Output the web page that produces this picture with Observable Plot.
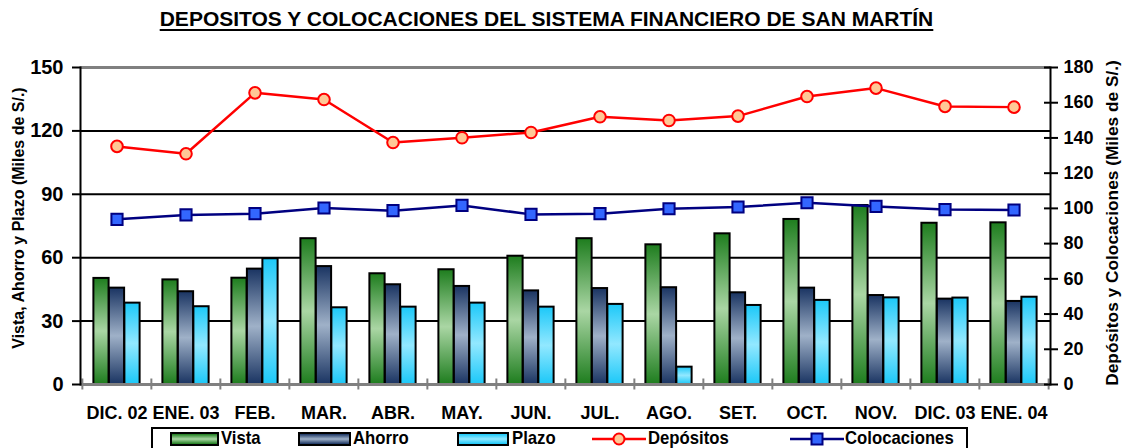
<!DOCTYPE html>
<html><head><meta charset="utf-8">
<script src="https://cdn.jsdelivr.net/npm/d3@7"></script>
<script src="https://cdn.jsdelivr.net/npm/@observablehq/plot@0.6"></script>
<style>
body{margin:0;background:#fff;font-family:"Liberation Sans",Arial,sans-serif;}
#wrap{position:relative;width:1125px;height:448px;overflow:hidden;background:#fff;}
#title{position:absolute;left:0;top:7px;width:1093px;text-align:center;font-weight:bold;font-size:21px;line-height:24px;text-decoration:underline;text-underline-offset:3px;}
#chart{position:absolute;left:0;top:40px;}
#legend{position:absolute;left:151px;top:427px;width:817px;height:32px;border:2px solid #000;box-sizing:border-box;font-family:"Liberation Sans",Arial,sans-serif;font-weight:bold;font-size:19px;}
#legend .it{position:absolute;top:-2px;line-height:22px;white-space:nowrap;transform:scaleX(0.88);transform-origin:0 50%;}
#legend .sw{position:absolute;top:3px;height:14px;border:2px solid #000;box-sizing:border-box;}
#legend svg{position:absolute;top:-1px;}
</style></head>
<body><div id="wrap">
<div id="title">DEPOSITOS Y COLOCACIONES DEL SISTEMA FINANCIERO DE SAN MARTÍN</div>
<div id="chart"></div>
<div id="legend"></div>
</div>
<script>
const months = ["DIC. 02","ENE. 03","FEB.","MAR.","ABR.","MAY.","JUN.","JUL.","AGO.","SET.","OCT.","NOV.","DIC. 03","ENE. 04"];
const vista  = [50.2,49.5,50.3,69.0,52.4,54.3,60.7,69.0,66.1,71.3,78.1,84.7,76.3,76.5];
const ahorro = [45.6,43.9,54.6,55.8,47.2,46.4,44.3,45.4,45.8,43.4,45.6,42.1,40.4,39.3];
const plazo  = [38.5,36.8,59.5,36.3,36.6,38.5,36.6,37.9,8.2,37.4,39.8,41.0,40.9,41.3];
const depositos    = [135.2,131.0,165.6,161.8,137.4,140.1,143.1,152.0,149.9,152.4,163.5,168.3,157.9,157.5];
const colocaciones = [93.8,96.3,97.0,100.2,98.7,101.7,96.6,97.0,99.8,100.8,103.2,101.1,99.3,99.1];
const leftTicks  = [0,30,60,90,120,150];
const rightTicks = [0,20,40,60,80,100,120,140,160,180];
const gridTicks  = [30,60,90,120];
const leftLabel  = "Vista, Ahorro y Plazo (Miles de S/.)";
const rightLabel = "Depósitos y Colocaciones (Miles de S/.)";

const W = 1125, H = 386, mL = 80, mR = 75, mT = 27, mB = 42;
const k = 150 / 180; // right-axis values mapped onto the left scale
const bw = (W - mL - mR) / months.length;
const barW = 15.5;
const g0 = (bw - 3 * barW) / 2;
const inset = i => ({insetLeft: g0 + i * barW, insetRight: bw - g0 - (i + 1) * barW});

const rows = a => months.map((m, i) => ({m, v: a[i]}));
const bold = {fontWeight: "bold", fontFamily: "Liberation Sans, Arial, sans-serif"};

const chart = Plot.plot({
  width: W, height: H, marginLeft: mL, marginRight: mR, marginTop: mT, marginBottom: mB,
  style: {background: "#fff", color: "#000", overflow: "visible"},
  x: {type: "band", domain: months, padding: 0, label: null},
  y: {domain: [0, 150], label: null},
  marks: [
    Plot.ruleY(gridTicks, {stroke: "#000", strokeWidth: 2}),
    Plot.ruleY([150], {stroke: "#808080", strokeWidth: 3}),
    Plot.barY(rows(vista),  {x: "m", y: "v", fill: "url(#gVista)",  stroke: "#000", strokeWidth: 2, ...inset(0)}),
    Plot.barY(rows(ahorro), {x: "m", y: "v", fill: "url(#gAhorro)", stroke: "#000", strokeWidth: 2, ...inset(1)}),
    Plot.barY(rows(plazo),  {x: "m", y: "v", fill: "url(#gPlazo)",  stroke: "#000", strokeWidth: 2, ...inset(2)}),
    Plot.ruleY([0], {stroke: "#808080", strokeWidth: 3}),
    Plot.ruleX(months, {x: d => d, dx: -bw / 2, y1: -2.6, y2: 2.6, stroke: "#808080", strokeWidth: 2}),
    Plot.ruleX(months.slice(-1), {x: d => d, dx: bw / 2, y1: -2.6, y2: 2.6, stroke: "#808080", strokeWidth: 2}),
    Plot.frame({anchor: "left", stroke: "#000", strokeWidth: 2}),
    Plot.frame({anchor: "right", stroke: "#000", strokeWidth: 2}),
    Plot.axisY({anchor: "left", label: null, ticks: leftTicks, tickSize: 8, tickPadding: 9, fontSize: 20, ...bold, tickFormat: d => d, strokeWidth: 2}),
    Plot.axisY({anchor: "right", label: null, ticks: rightTicks.map(v => v * k), tickSize: 14, dx: -7, tickFormat: () => "", strokeWidth: 2}),
    Plot.axisY({anchor: "right", label: null, ticks: rightTicks.map(v => v * k), tickSize: 0, tickPadding: 13, fontSize: 18, ...bold, tickFormat: d => Math.round(d / k)}),
    Plot.axisX({label: null, tickSize: 0, tickPadding: 22, fontSize: 18, ...bold}),
    Plot.text([leftLabel], {text: d => d, frameAnchor: "left", textAnchor: "middle", rotate: -90, dx: -62, dy: -8, fontSize: 16, ...bold}),
    Plot.text([rightLabel], {text: d => d, frameAnchor: "right", textAnchor: "middle", rotate: -90, dx: 62, dy: -3, fontSize: 17.3, ...bold}),
    Plot.line(rows(depositos), {x: "m", y: d => d.v * k, stroke: "#ff0000", strokeWidth: 2.5}),
    Plot.dot(rows(depositos), {x: "m", y: d => d.v * k, r: 5.8, fill: "#ffc896", stroke: "#ff0000", strokeWidth: 2}),
    Plot.line(rows(colocaciones), {x: "m", y: d => d.v * k, stroke: "#000080", strokeWidth: 2.5}),
    Plot.dot(rows(colocaciones), {x: "m", y: d => d.v * k, symbol: "square", r: 6.3, fill: "#3366ff", stroke: "#000080", strokeWidth: 2})
  ]
});

d3.select(chart).insert("defs", ":first-child").html(`
<linearGradient id="gVista" x1="0" y1="0" x2="0" y2="1"><stop offset="0" stop-color="#1e7d1e"/><stop offset="0.5" stop-color="#aad6a4"/><stop offset="1" stop-color="#1e7d1e"/></linearGradient>
<linearGradient id="gAhorro" x1="0" y1="0" x2="0" y2="1"><stop offset="0" stop-color="#1a3462"/><stop offset="0.5" stop-color="#9fb1c8"/><stop offset="1" stop-color="#1a3462"/></linearGradient>
<linearGradient id="gPlazo" x1="0" y1="0" x2="0" y2="1"><stop offset="0" stop-color="#1cc8f8"/><stop offset="0.5" stop-color="#92e8ff"/><stop offset="1" stop-color="#1cc8f8"/></linearGradient>`);
document.getElementById("chart").appendChild(chart);

// legend
const legend = d3.select("#legend");
const L0 = 153;
const items = [
  {name: "Vista", type: "bar", grad: "linear-gradient(#1e7d1e,#aad6a4,#1e7d1e)", sx: 170, sw: 49, tx: 221},
  {name: "Ahorro", type: "bar", grad: "linear-gradient(#1a3462,#9fb1c8,#1a3462)", sx: 298, sw: 53, tx: 353},
  {name: "Plazo", type: "bar", grad: "linear-gradient(#1cc8f8,#92e8ff,#1cc8f8)", sx: 457, sw: 52, tx: 512},
  {name: "Depósitos", type: "circle", sx: 592, sw: 54, tx: 648},
  {name: "Colocaciones", type: "square", sx: 790, sw: 54, tx: 845}
];
for (const it of items) {
  if (it.type === "bar") {
    legend.append("div").attr("class", "sw").style("left", (it.sx - L0) + "px").style("width", it.sw + "px").style("background", it.grad);
  } else {
    const s = legend.append("svg").attr("width", it.sw).attr("height", 22).style("left", (it.sx - L0) + "px");
    const col = it.type === "circle" ? "#ff0000" : "#000080";
    s.append("line").attr("x1", 0).attr("x2", it.sw).attr("y1", 11).attr("y2", 11).attr("stroke", col).attr("stroke-width", 2.5);
    if (it.type === "circle") s.append("circle").attr("cx", it.sw / 2).attr("cy", 11).attr("r", 5.5).attr("fill", "#ffc896").attr("stroke", col).attr("stroke-width", 2);
    else s.append("rect").attr("x", it.sw / 2 - 5.5).attr("y", 5.5).attr("width", 11).attr("height", 11).attr("fill", "#3366ff").attr("stroke", col).attr("stroke-width", 2);
  }
  legend.append("div").attr("class", "it").style("left", (it.tx - L0) + "px").text(it.name);
}
</script>
</body></html>
